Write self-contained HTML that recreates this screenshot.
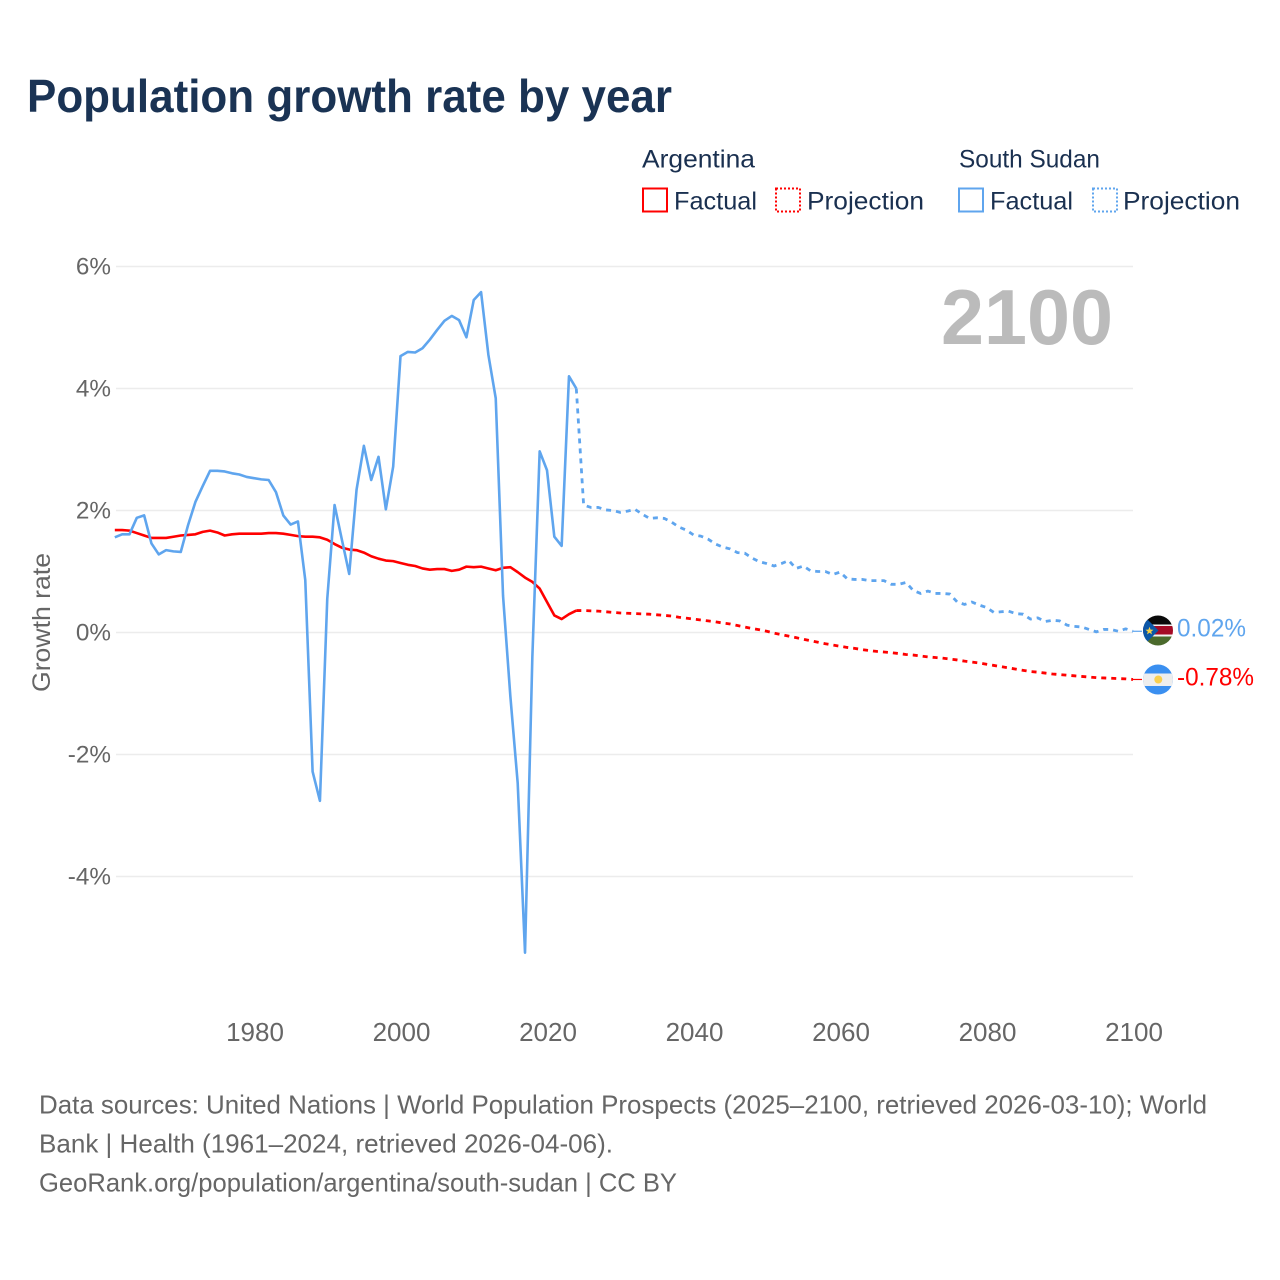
<!DOCTYPE html>
<html lang="en">
<head>
<meta charset="utf-8">
<title>Population growth rate by year</title>
<style>
html,body{margin:0;padding:0;background:#fff;}
svg{display:block;}
text{font-family:"Liberation Sans",sans-serif;}
</style>
</head>
<body>
<svg id="chart" xmlns="http://www.w3.org/2000/svg" width="1280" height="1280" viewBox="0 0 1280 1280">
  <rect width="1280" height="1280" fill="#fff"/>
  <text x="27" y="112" font-size="46" font-weight="700" fill="#1a3354" textLength="645" lengthAdjust="spacingAndGlyphs">Population growth rate by year</text>

  <g fill="#1a3050" font-size="25">
    <text x="642" y="167.5" textLength="113" lengthAdjust="spacingAndGlyphs">Argentina</text>
    <text x="959" y="167.5" textLength="141" lengthAdjust="spacingAndGlyphs">South Sudan</text>
    <rect x="643" y="188.5" width="24" height="23" fill="none" stroke="#ff0000" stroke-width="2"/>
    <text x="674" y="209.5" textLength="83" lengthAdjust="spacingAndGlyphs">Factual</text>
    <rect x="776" y="188.5" width="24" height="23" fill="none" stroke="#ff0000" stroke-width="2" stroke-dasharray="2 2"/>
    <text x="807" y="209.5" textLength="117" lengthAdjust="spacingAndGlyphs">Projection</text>
    <rect x="959" y="188.5" width="24" height="23" fill="none" stroke="#5fa5ee" stroke-width="2"/>
    <text x="990" y="209.5" textLength="83" lengthAdjust="spacingAndGlyphs">Factual</text>
    <rect x="1093" y="188.5" width="24" height="23" fill="none" stroke="#5fa5ee" stroke-width="2" stroke-dasharray="2 2"/>
    <text x="1123" y="209.5" textLength="117" lengthAdjust="spacingAndGlyphs">Projection</text>
  </g>

  <g id="grid"></g>
  <g id="yticks"></g>
  <g id="xticks"></g>

  <text transform="translate(50,692) rotate(-90)" font-size="25" fill="#666" textLength="139" lengthAdjust="spacingAndGlyphs">Growth rate</text>
  <text id="year-label" x="1113" y="344" font-size="78" font-weight="700" fill="#bbbbbb" text-anchor="end" textLength="172" lengthAdjust="spacingAndGlyphs">2100</text>

  <g id="series"></g>

  <defs>
    <clipPath id="clip-ss"><circle cx="1158" cy="630.5" r="15"/></clipPath>
    <clipPath id="clip-ar"><circle cx="1158" cy="679.5" r="15"/></clipPath>
  </defs>
  <g clip-path="url(#clip-ss)">
    <rect x="1143" y="615" width="30" height="9.5" fill="#0a0a0a"/>
    <rect x="1143" y="624.5" width="30" height="12" fill="#f2f2f2"/>
    <rect x="1143" y="626" width="30" height="8.5" fill="#a50a25"/>
    <rect x="1143" y="636.5" width="30" height="10" fill="#4b6a2c"/>
    <polygon points="1143,615 1158.5,630.5 1143,646" fill="#0b57a8"/>
    <polygon points="1149.5,626.8 1150.6,629.6 1153.5,629.7 1151.2,631.6 1152,634.4 1149.5,632.8 1147,634.4 1147.8,631.6 1145.5,629.7 1148.4,629.6" fill="#f6cf45"/>
  </g>
  <g clip-path="url(#clip-ar)">
    <rect x="1143" y="664" width="30" height="31" fill="#3a8ff0"/>
    <rect x="1143" y="673.5" width="30" height="12.5" fill="#eeeeee"/>
    <circle cx="1158.3" cy="679.5" r="4" fill="#f9cf4e"/>
  </g>

  <g id="end-labels"></g>

  <g font-size="26" fill="#666">
    <text x="39" y="1113.5" textLength="1168" lengthAdjust="spacingAndGlyphs">Data sources: United Nations | World Population Prospects (2025–2100, retrieved 2026-03-10); World</text>
    <text x="39" y="1152.5" textLength="574" lengthAdjust="spacingAndGlyphs">Bank | Health (1961–2024, retrieved 2026-04-06).</text>
    <text x="39" y="1191.5" textLength="638" lengthAdjust="spacingAndGlyphs">GeoRank.org/population/argentina/south-sudan | CC BY</text>
  </g>
</svg>
<script>
const yTickValues = [6, 4, 2, 0, -2, -4];
const yTickLabels = ["6%", "4%", "2%", "0%", "-2%", "-4%"];
const xTickYears = [1980, 2000, 2020, 2040, 2060, 2080, 2100];
const firstYear = 1961;
const lastFactualYear = 2024;

const argentinaFactual = [1.68,1.68,1.67,1.63,1.59,1.55,1.55,1.55,1.57,1.59,1.60,1.61,1.65,1.67,1.64,1.59,1.61,1.62,1.62,1.62,1.62,1.63,1.63,1.62,1.60,1.58,1.57,1.57,1.56,1.52,1.45,1.39,1.36,1.35,1.31,1.25,1.21,1.18,1.17,1.14,1.11,1.09,1.05,1.03,1.04,1.04,1.01,1.03,1.08,1.07,1.08,1.05,1.02,1.06,1.07,0.99,0.90,0.83,0.72,0.50,0.28,0.22,0.30,0.36];
const argentinaProjection = [0.36,0.355,0.35,0.34,0.33,0.32,0.315,0.31,0.305,0.30,0.29,0.28,0.27,0.25,0.235,0.22,0.205,0.19,0.175,0.155,0.14,0.115,0.09,0.065,0.045,0.02,-0.01,-0.035,-0.06,-0.085,-0.11,-0.135,-0.16,-0.185,-0.205,-0.225,-0.245,-0.26,-0.28,-0.295,-0.31,-0.32,-0.33,-0.345,-0.36,-0.37,-0.385,-0.40,-0.41,-0.42,-0.435,-0.45,-0.47,-0.485,-0.50,-0.52,-0.54,-0.56,-0.58,-0.60,-0.62,-0.64,-0.65,-0.665,-0.68,-0.69,-0.70,-0.71,-0.72,-0.73,-0.74,-0.745,-0.75,-0.755,-0.76,-0.77];
const southSudanFactual = [1.56,1.61,1.61,1.88,1.92,1.46,1.28,1.35,1.33,1.32,1.76,2.14,2.40,2.65,2.65,2.64,2.61,2.59,2.55,2.53,2.51,2.50,2.30,1.92,1.77,1.82,0.86,-2.28,-2.76,0.55,2.09,1.52,0.96,2.34,3.06,2.50,2.88,2.02,2.72,4.53,4.60,4.59,4.66,4.80,4.96,5.11,5.19,5.12,4.84,5.45,5.58,4.55,3.84,0.60,-1.05,-2.47,-5.25,-0.40,2.97,2.66,1.57,1.42,4.20,4.00];
const southSudanProjection = [2.09,2.05,2.05,2.01,2.00,1.97,1.99,2.02,1.94,1.87,1.88,1.87,1.81,1.73,1.68,1.60,1.58,1.53,1.45,1.40,1.37,1.31,1.30,1.22,1.16,1.13,1.09,1.13,1.18,1.05,1.09,1.01,1.00,1.00,0.95,0.99,0.88,0.87,0.87,0.85,0.85,0.85,0.79,0.79,0.82,0.69,0.64,0.68,0.64,0.64,0.63,0.50,0.46,0.50,0.45,0.41,0.33,0.34,0.35,0.31,0.30,0.22,0.24,0.18,0.20,0.19,0.12,0.10,0.09,0.05,0.01,0.05,0.05,0.02,0.06,0.02];
const endLabelArgentina = "-0.78%";
const endLabelSouthSudan = "0.02%";

const NS = "http://www.w3.org/2000/svg";
const RED = "#ff0000";
const BLUE = "#5fa5ee";
function xTickScale(year) { return 255 + (year - 1980) * (1134 - 255) / 120; }
function xScale(year) { return xTickScale(year) - 1; }
function yScale(v) { return 632.5 - v * 61; }

const gridG = document.getElementById("grid");
const yG = document.getElementById("yticks");
const xG = document.getElementById("xticks");
const seriesG = document.getElementById("series");
const endG = document.getElementById("end-labels");

yTickValues.forEach(function (v, i) {
  const line = document.createElementNS(NS, "line");
  line.setAttribute("x1", 116);
  line.setAttribute("x2", 1133);
  line.setAttribute("y1", yScale(v));
  line.setAttribute("y2", yScale(v));
  line.setAttribute("stroke", "#ececec");
  line.setAttribute("stroke-width", 1.6);
  
  
  gridG.appendChild(line);

  const t = document.createElementNS(NS, "text");
  t.textContent = yTickLabels[i];
  t.setAttribute("x", 111);
  t.setAttribute("y", yScale(v) + 8);
  t.setAttribute("text-anchor", "end");
  t.setAttribute("font-size", 24.3);
  t.setAttribute("fill", "#666");
  
  
  yG.appendChild(t);
});

xTickYears.forEach(function (yr) {
  const t = document.createElementNS(NS, "text");
  t.textContent = String(yr);
  t.setAttribute("x", xTickScale(yr));
  t.setAttribute("y", 1041);
  t.setAttribute("text-anchor", "middle");
  t.setAttribute("font-size", 26);
  t.setAttribute("fill", "#666");
  
  
  xG.appendChild(t);
});

function pathFrom(values, startYear) {
  return values.map(function (v, i) {
    return (i ? "L" : "M") + xScale(startYear + i).toFixed(2) + " " + yScale(v).toFixed(2);
  }).join(" ");
}

function addLine(d, color, dashed, name) {
  const p = document.createElementNS(NS, "path");
  p.setAttribute("d", d);
  p.setAttribute("fill", "none");
  p.setAttribute("stroke", color);
  p.setAttribute("stroke-width", dashed ? 2.8 : 2.6);
  p.setAttribute("stroke-linejoin", "round");
  if (dashed) p.setAttribute("stroke-dasharray", "5 5");
  
  
  seriesG.appendChild(p);
}

const ssLastFactual = southSudanFactual[southSudanFactual.length - 1];
const arLastFactual = argentinaFactual[argentinaFactual.length - 1];

addLine(pathFrom(argentinaFactual, firstYear), RED, false, 'argentina-factual-line');
addLine(pathFrom([arLastFactual].concat(argentinaProjection), lastFactualYear), RED, true, 'argentina-projection-line');
addLine(pathFrom(southSudanFactual, firstYear), BLUE, false, 'south-sudan-factual-line');
addLine(pathFrom([ssLastFactual].concat(southSudanProjection), lastFactualYear), BLUE, true, 'south-sudan-projection-line');

function addConnector(lastValue, color, name) {
  const c = document.createElementNS(NS, "line");
  c.setAttribute("x1", xScale(2100));
  c.setAttribute("x2", 1142);
  c.setAttribute("y1", yScale(lastValue));
  c.setAttribute("y2", yScale(lastValue));
  c.setAttribute("stroke", color);
  c.setAttribute("stroke-width", 1.2);
  
  
  seriesG.appendChild(c);
}
addConnector(argentinaProjection[argentinaProjection.length - 1], RED, 'argentina-end-connector');
addConnector(southSudanProjection[southSudanProjection.length - 1], BLUE, 'south-sudan-end-connector');

function addEndLabel(text, baseline, width, color, name) {
  const t = document.createElementNS(NS, "text");
  t.textContent = text;
  t.setAttribute("x", 1177);
  t.setAttribute("y", baseline);
  t.setAttribute("font-size", 25);
  t.setAttribute("fill", color);
  t.setAttribute("textLength", width);
  t.setAttribute("lengthAdjust", "spacingAndGlyphs");
  
  
  endG.appendChild(t);
}
addEndLabel(endLabelSouthSudan, 636.5, 69, BLUE, 'south-sudan-end-label');
addEndLabel(endLabelArgentina, 685.5, 77, RED, 'argentina-end-label');
</script>
</body>
</html>
